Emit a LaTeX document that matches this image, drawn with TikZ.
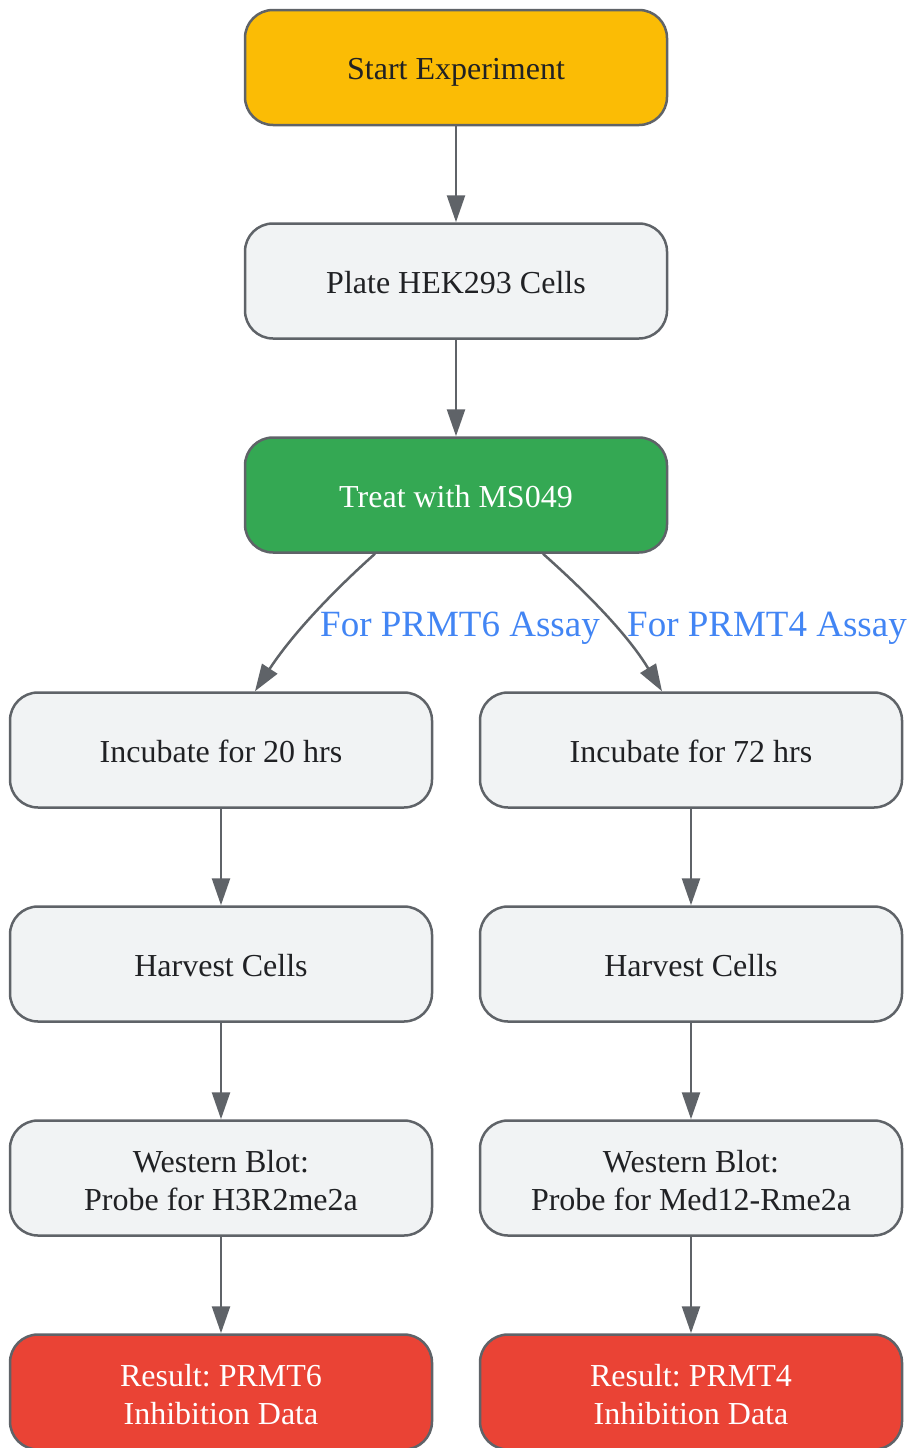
\documentclass[tikz,border=0pt]{standalone}
\usepackage{fontspec}
\setmainfont{Liberation Serif}
\usetikzlibrary{arrows.meta,calc}
\frenchspacing
\definecolor{edgegray}{HTML}{5F6368}
\definecolor{boxgray}{HTML}{F1F3F4}
\definecolor{txtdark}{HTML}{202124}
\definecolor{gyellow}{HTML}{FBBC05}
\definecolor{ggreen}{HTML}{34A853}
\definecolor{gred}{HTML}{EA4335}
\definecolor{gblue}{HTML}{4285F4}
\newcommand\mynodestrut{\rule[-6.5pt]{0pt}{38pt}}
\tikzset{
  topstrut/.initial=38pt,
  stepbox/.style={draw=edgegray, line width=2.5pt, rounded corners=28pt,
    minimum width=422pt, minimum height=115pt, fill=boxgray, text=txtdark,
    align=center, inner sep=0pt,
    font=\fontsize{32}{38}\selectfont\frenchspacing,
    execute at begin node={\rule[-6.5pt]{0pt}{\pgfkeysvalueof{/tikz/topstrut}}},
    execute at end node=\mynodestrut},
  twoline/.style={topstrut=78pt},
  startbox/.style={stepbox, fill=gyellow},
  treatbox/.style={stepbox, fill=ggreen, text=white},
  resbox/.style={stepbox, twoline, fill=gred, text=white},
  conn/.style={draw=edgegray, line width=2.5pt,
    -{Triangle[length=27pt,width=18pt]}},
  elabel/.style={text=gblue, font=\fontsize{37}{40}\selectfont, inner sep=0pt, anchor=base}
}
\begin{document}
\begin{tikzpicture}[x=1pt,y=-1pt]
\useasboundingbox (0,0) rectangle (908,1448);
\node[startbox] (start) at (456,67.5) {Start Experiment};
\node[stepbox] (plate) at (456,281) {Plate HEK293 Cells};
\node[treatbox] (treat) at (456,495) {Treat with MS049};
\node[stepbox] (inca) at (221,750) {Incubate for 20 hrs};
\node[stepbox] (incb) at (691,750) {Incubate for 72 hrs};
\node[stepbox] (harva) at (221,964) {Harvest Cells};
\node[stepbox] (harvb) at (691,964) {Harvest Cells};
\node[stepbox, twoline] (wba) at (221,1178) {Western Blot:\\Probe for H3R2me2a};
\node[stepbox, twoline] (wbb) at (691,1178) {Western Blot:\\Probe for Med12-Rme2a};
\node[resbox] (resa) at (221,1392) {Result: PRMT6\\Inhibition Data};
\node[resbox] (resb) at (691,1392) {Result: PRMT4\\Inhibition Data};

\draw[conn] (start) -- (plate);
\draw[conn] (plate) -- (treat);
\draw[conn] ($(treat.south)+(-81,0)$) .. controls (340,585) and (295,630) .. ($(inca.north)+(34,0)$);
\draw[conn] ($(treat.south)+(87,0)$) .. controls (578,585) and (625,630) .. ($(incb.north)+(-29,0)$);
\node[elabel] (la) at (460,636) {For PRMT6 Assay};
\node[elabel] (lb) at (767,636) {For PRMT4 Assay};
\draw[conn] (inca) -- (harva);
\draw[conn] (harva) -- (wba);
\draw[conn] (wba) -- (resa);
\draw[conn] (incb) -- (harvb);
\draw[conn] (harvb) -- (wbb);
\draw[conn] (wbb) -- (resb);
\end{tikzpicture}
\end{document}
